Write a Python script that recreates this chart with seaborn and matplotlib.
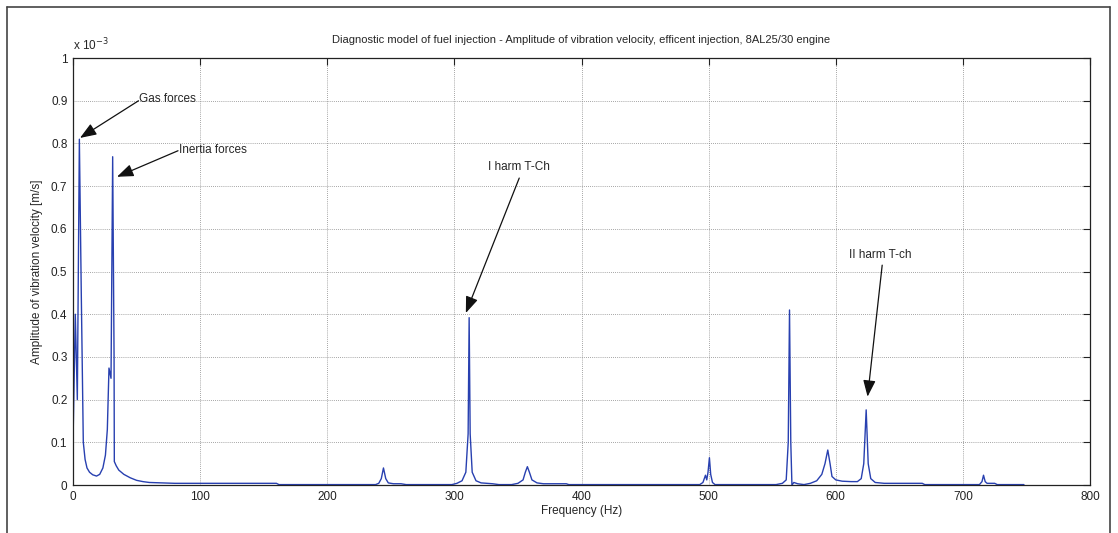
import matplotlib
matplotlib.use("Agg")
import matplotlib.pyplot as plt
import matplotlib.ticker as mticker
from matplotlib.lines import Line2D
import seaborn as sns
import pandas as pd

# Spectrum trace (frequency in Hz, amplitude in 1e-3 m/s)
freq = [0, 1.8, 3.4, 5.0, 6.5, 8.1, 9.5, 11, 13, 15.5, 18.5, 21, 23.5, 25.5, 27,
        28.3, 29.9, 31.2, 32.3, 32.5, 34, 36, 40, 45, 50, 55, 60, 70, 80, 95, 100,
        160, 162, 238, 240.5, 242.5, 244.2, 246, 248, 252, 258, 262,
        298, 302, 306, 309, 310.8, 311.6, 312.4, 314, 317, 321, 330, 335,
        345, 350, 354, 355.8, 357.4, 359, 361, 365, 370, 388, 390,
        493, 495.5, 497.5, 498.5, 499.5, 500.6, 501.6, 503, 505,
        553, 558, 561, 562.6, 563.6, 564.6, 565.5, 567, 570, 575, 580, 585, 589,
        591.5, 593.7, 595.5, 597, 600, 605, 612, 617, 620, 622, 623.9, 625.5,
        627.5, 631, 638, 668, 670, 713, 715, 716.2, 717.5, 719, 725, 727, 748]
amp = [0.098, 0.40, 0.20, 0.81, 0.45, 0.10, 0.06, 0.04, 0.03, 0.024, 0.021, 0.025,
       0.04, 0.07, 0.13, 0.274, 0.25, 0.769, 0.30, 0.055, 0.045, 0.035, 0.025,
       0.017, 0.011, 0.008, 0.006, 0.005, 0.004, 0.004, 0.004,
       0.004, 0.001, 0.001, 0.004, 0.015, 0.040, 0.015, 0.005, 0.003, 0.003, 0.001,
       0.001, 0.004, 0.010, 0.030, 0.12, 0.392, 0.12, 0.030, 0.010, 0.005, 0.003, 0.001,
       0.001, 0.004, 0.012, 0.030, 0.043, 0.030, 0.012, 0.005, 0.003, 0.003, 0.001,
       0.001, 0.006, 0.023, 0.012, 0.030, 0.064, 0.025, 0.006, 0.001,
       0.001, 0.004, 0.012, 0.10, 0.41, 0.10, 0.0, 0.006, 0.003, 0.001, 0.004, 0.010,
       0.025, 0.050, 0.082, 0.050, 0.020, 0.012, 0.009, 0.008, 0.008, 0.015, 0.050,
       0.176, 0.050, 0.015, 0.006, 0.004, 0.004, 0.001, 0.001, 0.008, 0.023, 0.008,
       0.004, 0.004, 0.001, 0.001]

x_ticks = [0, 100, 200, 300, 400, 500, 600, 700, 800]
y_ticks = [0, 0.1, 0.2, 0.3, 0.4, 0.5, 0.6, 0.7, 0.8, 0.9, 1.0]

annot_labels = ["Gas forces", "Inertia forces", "I harm T-Ch", "II harm T-ch"]
annot_head_x = [5.5, 34.6, 309.0, 625.0]
annot_head_y = [0.813, 0.722, 0.403, 0.207]
annot_tail_x = [51.5, 82.6, 351.0, 636.5]
annot_tail_y = [0.900, 0.783, 0.719, 0.515]
annot_text_x = [52.0, 83.0, 350.5, 635.0]
annot_text_y = [0.905, 0.785, 0.745, 0.539]

title = "Diagnostic model of fuel injection - Amplitude of vibration velocity, efficent injection, 8AL25/30 engine"

df = pd.DataFrame({"Frequency": freq, "Amplitude": amp})

sns.set_style("white")
plt.rcParams["font.family"] = ["Liberation Sans", "DejaVu Sans"]

fig = plt.figure(figsize=(11.18, 5.33), dpi=100)
ax = fig.add_axes([0.0653, 0.090, 0.9097, 0.801])

sns.lineplot(data=df, x="Frequency", y="Amplitude", ax=ax, color="#2840b0",
             linewidth=1.0, sort=False, estimator=None)

ax.set_xlim(0, 800)
ax.set_ylim(0, 1.0)
ax.set_xticks(x_ticks)
ax.set_yticks(y_ticks)
ax.yaxis.set_major_formatter(mticker.FormatStrFormatter("%g"))
ax.tick_params(axis="both", direction="in", length=5, width=0.8, top=True,
               right=True, labelsize=8.5, colors="#222222", pad=4)
ax.grid(True, linestyle=(0, (1, 1.5)), color="#888888", linewidth=0.6)
for s in ax.spines.values():
    s.set_color("#222222")
    s.set_linewidth(0.9)

ax.set_xlabel("Frequency (Hz)", fontsize=8.5, labelpad=2)
ax.set_ylabel("Amplitude of vibration velocity [m/s]", fontsize=8.5, labelpad=6)
ax.set_title(title, fontsize=8, pad=11)
ax.text(0.0, 1.012, "x 10$^{-3}$", transform=ax.transAxes, fontsize=8.5,
        ha="left", va="bottom")

for lab, hx, hy, ax_, ay_, tx, ty in zip(annot_labels, annot_head_x, annot_head_y,
                                         annot_tail_x, annot_tail_y,
                                         annot_text_x, annot_text_y):
    ax.annotate("", xy=(hx, hy), xytext=(ax_, ay_),
                arrowprops=dict(arrowstyle="-|>,head_length=1.0,head_width=0.38",
                                color="#111111", lw=0.9, shrinkA=0, shrinkB=0))
    ax.text(tx, ty, lab, fontsize=8.5, va="center",
            ha="left" if lab in ("Gas forces", "Inertia forces") else "center")

# figure frame
for xs, ys in [([0.0063, 0.0063], [0.0, 0.987]),
               ([0.0063, 0.993], [0.987, 0.987]),
               ([0.993, 0.993], [0.0, 0.987])]:
    fig.add_artist(Line2D(xs, ys, transform=fig.transFigure, color="#444444",
                          linewidth=1.2))

fig.savefig("out.png", dpi=100, facecolor="white")
